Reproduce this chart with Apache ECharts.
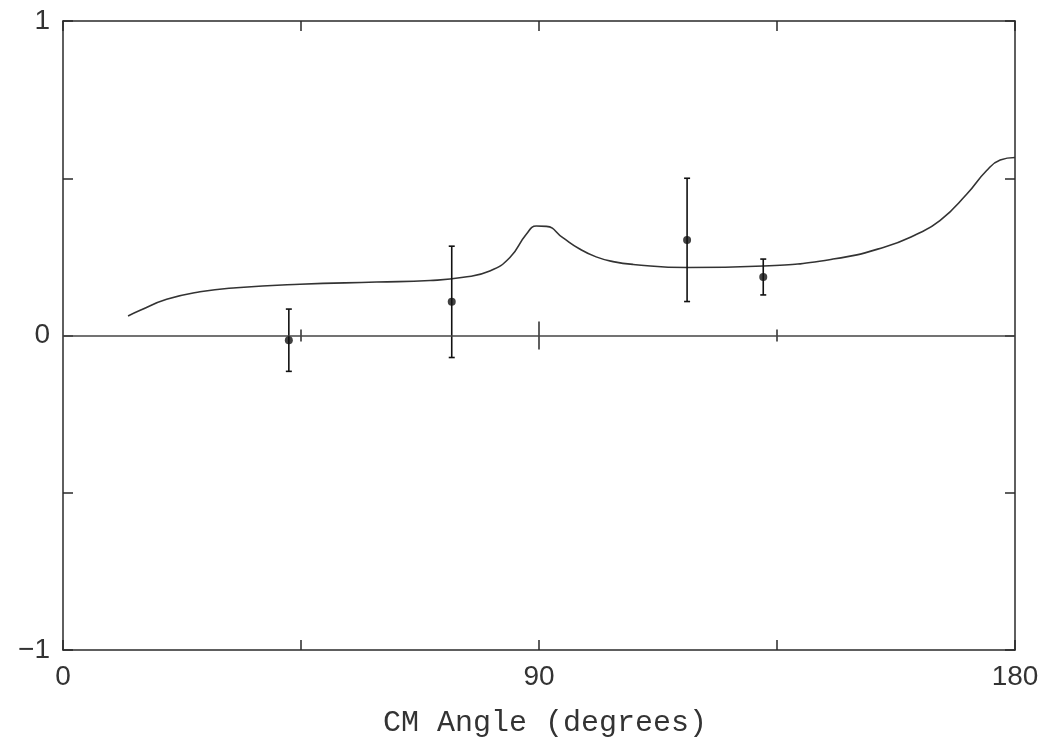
<!DOCTYPE html>
<html>
<head>
<meta charset="utf-8">
<script src="https://cdn.jsdelivr.net/npm/echarts@6.0.0/dist/echarts.min.js"></script>
<style>
html,body{margin:0;padding:0;background:#fff;}
#chart{width:1048px;height:743px;}
</style>
</head>
<body>
<div id="chart"></div>
<script>
// Theory curve (CM angle in degrees, value)
const curveX = [12.3, 14.6, 19.6, 25.9, 32.8, 44.8, 59.3, 69.4, 75.7, 80.7, 84.5, 87.6, 89.5, 91.4, 94.5, 97.7, 100.8, 104.0, 107.8, 118.0, 132.4, 145.6, 155.1, 161.4, 165.8, 170.9, 174.6, 177.2, 180];
const curveY = [0.062, 0.080, 0.115, 0.139, 0.152, 0.163, 0.170, 0.175, 0.185, 0.205, 0.248, 0.322, 0.348, 0.347, 0.311, 0.275, 0.250, 0.235, 0.226, 0.216, 0.221, 0.243, 0.280, 0.322, 0.365, 0.450, 0.524, 0.558, 0.566];
// Measured points with error bars
const pointX = [42.7, 73.5, 118.0, 132.4];
const pointY = [-0.015, 0.107, 0.304, 0.186];
const pointErr = [0.099, 0.177, 0.196, 0.057];
// Ticks drawn on the zero line
const zeroTicks = [45, 90, 135];
// Tick labels
const xTickLabels = {0: '0', 90: '90', 180: '180'};
const yTickLabels = {'-1': '\u22121', '0': '0', '1': '1'};
const xTitle = 'CM Angle (degrees)';

const chart = echarts.init(document.getElementById('chart'), null, {renderer: 'canvas'});
const ink = '#2a2a2a';
const labelFont = {fontFamily: 'Liberation Sans', fontSize: 28, color: '#333'};

const curveData = curveX.map((x, i) => [x, curveY[i]]);
const pointData = pointX.map((x, i) => [x, pointY[i]]);
const errData = pointX.map((x, i) => [x, pointY[i], pointErr[i]]);
const zeroTickData = zeroTicks.map(x => [x, 0]);

function axisCommon(pos) {
  return {
    type: 'value', position: pos,
    axisLine: {show: true, onZero: false, lineStyle: {color: ink, width: 1.5}},
    axisTick: {show: true, inside: true, length: 10, lineStyle: {color: ink, width: 1.5}},
    splitLine: {show: false}
  };
}

const option = {
  backgroundColor: '#ffffff',
  animation: false,
  grid: {left: 63, right: 33, top: 21, bottom: 93, show: false},
  xAxis: [
    Object.assign(axisCommon('bottom'), {
      min: 0, max: 180, interval: 45,
      axisLabel: Object.assign({margin: 13, formatter: v => xTickLabels[v] || ''}, labelFont),
      name: xTitle, nameLocation: 'middle', nameGap: 58,
      nameTextStyle: {fontFamily: 'Liberation Mono', fontSize: 30, color: '#333', padding: [0, 0, 0, 12]}
    }),
    Object.assign(axisCommon('top'), {
      min: 0, max: 180, interval: 45, axisLabel: {show: false}
    })
  ],
  yAxis: [
    Object.assign(axisCommon('left'), {
      min: -1, max: 1, interval: 0.5,
      axisLabel: Object.assign({margin: 13, formatter: v => yTickLabels[String(v)] || ''}, labelFont)
    }),
    Object.assign(axisCommon('right'), {
      min: -1, max: 1, interval: 0.5, axisLabel: {show: false}
    })
  ],
  series: [
    {
      type: 'line', data: curveData, smooth: 0.5, showSymbol: false,
      lineStyle: {color: '#333', width: 1.6},
      markLine: {
        silent: true, symbol: 'none', label: {show: false},
        lineStyle: {color: '#444', type: 'solid', width: 1.5},
        data: [{yAxis: 0}]
      },
      z: 3
    },
    {
      type: 'custom', data: zeroTickData,
      renderItem: function (params, api) {
        const p = api.coord([api.value(0), api.value(1)]);
        const h = api.value(0) === 90 ? 14 : 6;
        return {
          type: 'line',
          shape: {x1: p[0], y1: p[1] - h, x2: p[0], y2: p[1] + h},
          style: {stroke: ink, lineWidth: 1.5}
        };
      },
      z: 2
    },
    {
      type: 'custom', data: errData,
      renderItem: function (params, api) {
        const x = api.value(0), y = api.value(1), e = api.value(2);
        const t = api.coord([x, y + e]);
        const b = api.coord([x, y - e]);
        const c = 3;
        const st = {stroke: '#111', lineWidth: 1.6};
        return {
          type: 'group',
          children: [
            {type: 'line', shape: {x1: t[0], y1: t[1], x2: b[0], y2: b[1]}, style: st},
            {type: 'line', shape: {x1: t[0] - c, y1: t[1], x2: t[0] + c, y2: t[1]}, style: st},
            {type: 'line', shape: {x1: b[0] - c, y1: b[1], x2: b[0] + c, y2: b[1]}, style: st}
          ]
        };
      },
      z: 4
    },
    {
      type: 'scatter', data: pointData, symbol: 'circle', symbolSize: 8,
      itemStyle: {color: '#111'}, z: 5
    }
  ]
};
chart.setOption(option);
</script>
</body>
</html>
